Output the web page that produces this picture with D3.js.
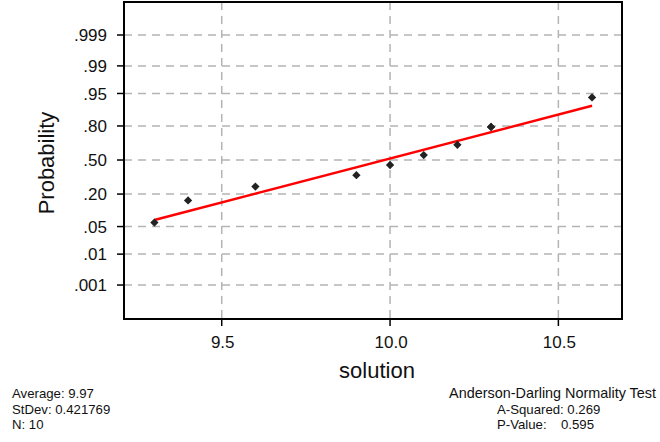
<!DOCTYPE html>
<html>
<head>
<meta charset="utf-8">
<script src="https://cdn.jsdelivr.net/npm/d3@7"></script>
<style>
  html, body { margin: 0; padding: 0; background: #fff; }
  svg { display: block; font-family: "Liberation Sans", Arial, sans-serif; }
</style>
</head>
<body>
<svg id="chart" width="660" height="442"></svg>
<script>
// sample values (sorted) and their plotting probabilities
var solution = [9.3, 9.4, 9.6, 9.9, 10.0, 10.1, 10.2, 10.3, 10.3, 10.6];
var probability = [0.061, 0.159, 0.256, 0.354, 0.451, 0.549, 0.646, 0.793, 0.793, 0.939];

// fitted line end points
var fitX = [9.3, 10.6];
var fitP = [0.069, 0.910];

var xTicks = [9.5, 10.0, 10.5];
var yTicks = [0.001, 0.01, 0.05, 0.20, 0.50, 0.80, 0.95, 0.99, 0.999];
var yTickLabels = [".001", ".01", ".05", ".20", ".50", ".80", ".95", ".99", ".999"];

var statsLeft = ["Average: 9.97", "StDev: 0.421769", "N: 10"];
var testTitle = "Anderson-Darling Normality Test";
var testLines = ["A-Squared: 0.269", "P-Value:"];
var pValue = "0.595";

// inverse normal cdf (Acklam)
function probit(p) {
    var a = [-3.969683028665376e+01, 2.209460984245205e+02, -2.759285104469687e+02, 1.383577518672690e+02, -3.066479806614716e+01, 2.506628277459239e+00],
        b = [-5.447609879822406e+01, 1.615858368580409e+02, -1.556989798598866e+02, 6.680131188771972e+01, -1.328068155288572e+01],
        c = [-7.784894002430293e-03, -3.223964580411365e-01, -2.400758277161838e+00, -2.549671010029750e+00, 4.374664141464968e+00, 2.938163982698783e+00],
        d = [7.784695709041462e-03, 3.224671290700398e-01, 2.445134137142996e+00, 3.754408661907416e+00];
    var pl = 0.02425, q, r;
    if (p < pl) {
        q = Math.sqrt(-2 * Math.log(p));
        return (((((c[0]*q+c[1])*q+c[2])*q+c[3])*q+c[4])*q+c[5]) / ((((d[0]*q+d[1])*q+d[2])*q+d[3])*q+1);
    }
    if (p > 1 - pl) {
        q = Math.sqrt(-2 * Math.log(1 - p));
        return -(((((c[0]*q+c[1])*q+c[2])*q+c[3])*q+c[4])*q+c[5]) / ((((d[0]*q+d[1])*q+d[2])*q+d[3])*q+1);
    }
    q = p - 0.5; r = q * q;
    return (((((a[0]*r+a[1])*r+a[2])*r+a[3])*r+a[4])*r+a[5])*q / (((((b[0]*r+b[1])*r+b[2])*r+b[3])*r+b[4])*r+1);
}

var svg = d3.select("#chart");

var pLeft = 124, pRight = 622, pTop = 2, pBottom = 319;

var x = d3.scaleLinear().domain([9.2097, 10.689]).range([pLeft, pRight]);
var z = d3.scaleLinear().domain([-3.93, 3.906]).range([pBottom, pTop]);
var y = function(p) { return z(probit(p)); };

var grid = svg.append("g")
    .attr("stroke", "#b4b4b4")
    .attr("stroke-width", 1.5)
    .attr("stroke-dasharray", "8,6");

grid.selectAll("line.h")
    .data(yTicks)
    .enter().append("line")
    .attr("class", "h")
    .attr("x1", pLeft).attr("x2", pRight)
    .attr("y1", function(d) { return y(d); })
    .attr("y2", function(d) { return y(d); });

grid.selectAll("line.v")
    .data(xTicks)
    .enter().append("line")
    .attr("class", "v")
    .attr("y1", pTop).attr("y2", pBottom)
    .attr("x1", function(d) { return x(d); })
    .attr("x2", function(d) { return x(d); });

// frame
svg.append("rect")
    .attr("x", pLeft).attr("y", pTop)
    .attr("width", pRight - pLeft).attr("height", pBottom - pTop)
    .attr("fill", "none")
    .attr("stroke", "#000")
    .attr("stroke-width", 2);

// y ticks
var yAxis = svg.append("g");
yAxis.selectAll("line")
    .data(yTicks)
    .enter().append("line")
    .attr("x1", pLeft - 7).attr("x2", pLeft)
    .attr("y1", function(d) { return y(d); })
    .attr("y2", function(d) { return y(d); })
    .attr("stroke", "#000")
    .attr("stroke-width", 1.5);
yAxis.selectAll("text")
    .data(yTicks)
    .enter().append("text")
    .attr("x", 107)
    .attr("y", function(d) { return y(d); })
    .attr("dy", "0.36em")
    .attr("text-anchor", "end")
    .attr("font-size", 17)
    .attr("fill", "#111")
    .text(function(d, i) { return yTickLabels[i]; });

// x ticks
var xAxis = svg.append("g");
xAxis.selectAll("line")
    .data(xTicks)
    .enter().append("line")
    .attr("x1", function(d) { return x(d); })
    .attr("x2", function(d) { return x(d); })
    .attr("y1", pBottom).attr("y2", pBottom + 7)
    .attr("stroke", "#000")
    .attr("stroke-width", 1.5);
xAxis.selectAll("text")
    .data(xTicks)
    .enter().append("text")
    .attr("x", function(d) { return x(d) + 1; })
    .attr("y", 348)
    .attr("text-anchor", "middle")
    .attr("font-size", 17)
    .attr("fill", "#111")
    .text(function(d) { return d3.format(".1f")(d); });

// axis titles
svg.append("text")
    .attr("x", 377).attr("y", 378)
    .attr("text-anchor", "middle")
    .attr("font-size", 22)
    .attr("fill", "#111")
    .text("solution");

svg.append("text")
    .attr("transform", "translate(54,163) rotate(-90)")
    .attr("text-anchor", "middle")
    .attr("font-size", 22)
    .attr("fill", "#111")
    .text("Probability");

// fitted line
svg.append("line")
    .attr("x1", x(fitX[0])).attr("y1", y(fitP[0]))
    .attr("x2", x(fitX[1])).attr("y2", y(fitP[1]))
    .attr("stroke", "#ff0000")
    .attr("stroke-width", 2.5);

// points
var diamond = d3.symbol().type(d3.symbolDiamond2).size(44);
svg.append("g")
    .selectAll("path")
    .data(solution)
    .enter().append("path")
    .attr("d", diamond)
    .attr("transform", function(d, i) { return "translate(" + x(d) + "," + y(probability[i]) + ")"; })
    .attr("fill", "#222");

// footer
var foot = svg.append("g").attr("font-size", 13.2).attr("fill", "#111");
var footY = [398, 414, 429];
foot.selectAll("text.l")
    .data(statsLeft)
    .enter().append("text")
    .attr("class", "l")
    .attr("x", 12)
    .attr("y", function(d, i) { return footY[i]; })
    .text(function(d) { return d; });

foot.append("text")
    .attr("x", 656).attr("y", footY[0])
    .attr("text-anchor", "end")
    .attr("font-size", 14.4)
    .text(testTitle);

foot.selectAll("text.tl")
    .data(testLines)
    .enter().append("text")
    .attr("class", "tl")
    .attr("x", 497)
    .attr("y", function(d, i) { return footY[i + 1]; })
    .text(function(d) { return d; });

foot.append("text")
    .attr("x", 561)
    .attr("y", footY[2])
    .text(pValue);
</script>
</body>
</html>
